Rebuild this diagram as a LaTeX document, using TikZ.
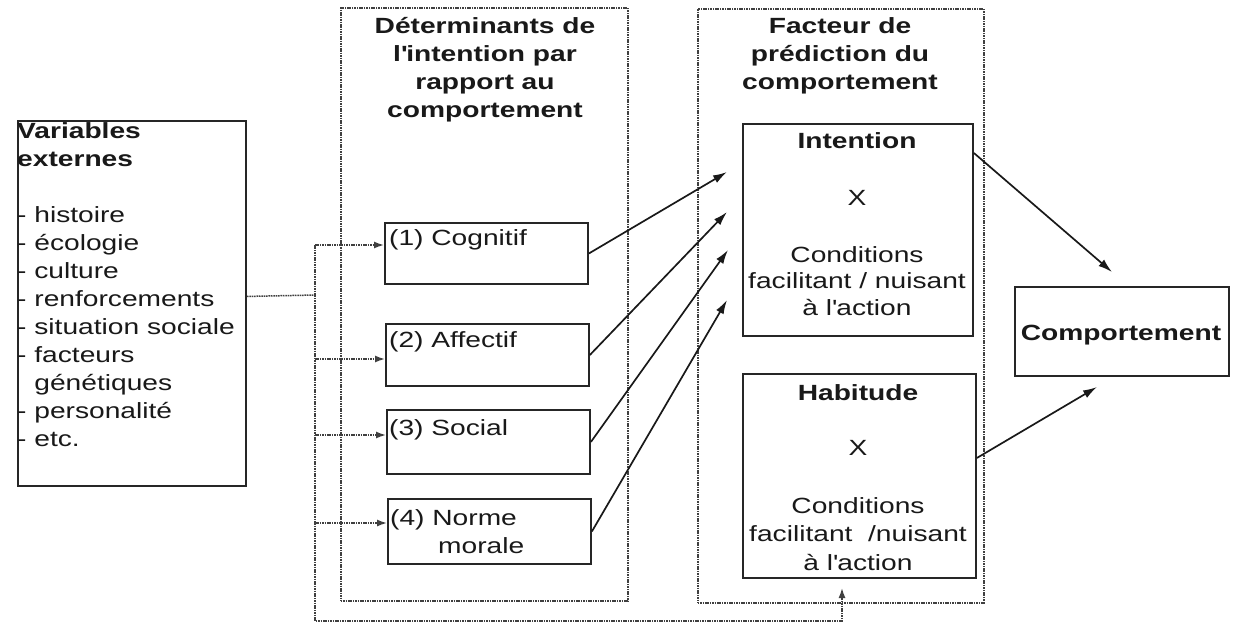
\documentclass[tikz,border=0pt]{standalone}
\usepackage{fontspec}
\setmainfont[FakeStretch=1.28]{Liberation Sans}
\usetikzlibrary{arrows.meta,calc}
\tikzset{
  solidbox/.style={draw=black!85, line width=1.9pt, inner sep=0pt, anchor=north west},
  dotbox/.style={draw=black!75, line width=1.5pt, dash pattern=on 1.6pt off 0.8pt, inner sep=0pt, anchor=north west},
  dotline/.style={draw=black!75, line width=1.5pt, dash pattern=on 1.6pt off 0.8pt},
  dotarrow/.style={dotline, -{Latex[length=10pt,width=7pt]}},
  arr/.style={black!90, line width=1.7pt, -{Latex[length=14pt,width=8.5pt]}},
  txt/.style={inner sep=0pt, text=black!90, font=\fontsize{22}{28}\selectfont},
}
\begin{document}
\begin{tikzpicture}[x=1pt,y=-1pt]
\useasboundingbox (0,0) rectangle (1233,625);
\fill[white] (0,0) rectangle (1233,625);

% containers
\node[dotbox, minimum width=287pt, minimum height=593pt] (dets) at (340,7) {};
\node[dotbox, minimum width=286pt, minimum height=594pt] (pred) at (697,8) {};

% boxes
\node[solidbox, minimum width=228pt, minimum height=365pt] (var) at (17,120) {};
\node[solidbox, minimum width=203pt, minimum height=61pt] (cog) at (384,222) {};
\node[solidbox, minimum width=203pt, minimum height=62pt] (aff) at (385,323) {};
\node[solidbox, minimum width=203pt, minimum height=64pt] (soc) at (386,409) {};
\node[solidbox, minimum width=203pt, minimum height=65pt] (nor) at (387,498) {};
\node[solidbox, minimum width=230pt, minimum height=212pt] (intn) at (742,123) {};
\node[solidbox, minimum width=233pt, minimum height=204pt] (hab) at (742,373) {};
\node[solidbox, minimum width=214pt, minimum height=89pt] (comp) at (1014,286) {};

% texts
\node[txt, anchor=base west] (vartxt) at (17,138) {\begin{tabular}[t]{@{}l@{}}\textbf{Variables}\\ \textbf{externes}\\ \\ - histoire\\ - écologie\\ - culture\\ - renforcements\\ - situation sociale\\ - facteurs\\ \phantom{-}\ génétiques\\ - personalité\\ - etc.\end{tabular}};

\node[txt, anchor=base] (dethead) at (485,33) {\bfseries\begin{tabular}[t]{@{}c@{}}Déterminants de\\ l\textquotesingle intention par\\ rapport au\\ comportement\end{tabular}};
\node[txt, anchor=base] (predhead) at (840,33) {\bfseries\begin{tabular}[t]{@{}c@{}}Facteur de\\ prédiction du\\ comportement\end{tabular}};

\node[txt, anchor=base west] (cogtxt) at (389,245) {(1) Cognitif};
\node[txt, anchor=base west] (afftxt) at (389,347) {(2) Affectif};
\node[txt, anchor=base west] (soctxt) at (389,435) {(3) Social};
\node[txt, anchor=base west] (nortxt) at (390,525) {\begin{tabular}[t]{@{}l@{}}(4) Norme\\ \hspace*{48pt}morale\end{tabular}};

\node[txt, anchor=base] (inttitle) at (857,148) {\textbf{Intention}};
\node[txt, anchor=base] (intx) at (857,205) {X};
\node[txt, anchor=base] (intcond) at (857,262) {\fontsize{22}{26.5}\selectfont\begin{tabular}[t]{@{}c@{}}Conditions\\ facilitant / nuisant\\ à l\textquotesingle action\end{tabular}};

\node[txt, anchor=base] (habtitle) at (858,400) {\textbf{Habitude}};
\node[txt, anchor=base] (habx) at (858,455) {X};
\node[txt, anchor=base] (habcond) at (858,513) {\fontsize{22}{28.5}\selectfont\begin{tabular}[t]{@{}c@{}}Conditions\\ facilitant\ \ /nuisant\\ à l\textquotesingle action\end{tabular}};

\node[txt, anchor=base] (comptxt) at (1121,340) {\textbf{Comportement}};

% coordinates
\coordinate (j0) at (315,295);
\coordinate (jt) at (315,245);
\coordinate (j2) at (315,359);
\coordinate (j3) at (315,435);
\coordinate (j4) at (315,523);
\coordinate (jb) at (315,621);
\coordinate (fb) at (842,621);
\coordinate (ft) at (842,588);
\coordinate (t1) at (727,172);
\coordinate (t2) at (727,212);
\coordinate (t3) at (728,250);
\coordinate (t4) at (727,300);
\coordinate (c1) at (1112,272);
\coordinate (c2) at (1097,387);

% dotted connectors
\draw[dotline] ($(var.east)+(0,-7)$) -- (j0);
\draw[dotarrow] (jt) -- (jb) -- (fb) -- (ft);
\draw[dotarrow] (jt) -- (jt -| cog.west);
\draw[dotarrow] (j2) -- (j2 -| aff.west);
\draw[dotarrow] (j3) -- (j3 -| soc.west);
\draw[dotarrow] (j4) -- (j4 -| nor.west);

% solid arrows
\draw[arr] (cog.east) -- (t1);
\draw[arr] (aff.east) -- (t2);
\draw[arr] (soc.east) -- (t3);
\draw[arr] (nor.east) -- (t4);
\draw[arr] ($(intn.north east)+(0,30)$) -- (c1);
\draw[arr] ($(hab.east)+(0,-18)$) -- (c2);
\end{tikzpicture}
\end{document}
